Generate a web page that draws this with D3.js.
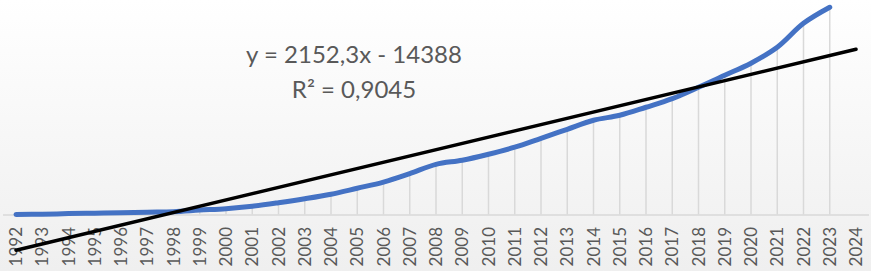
<!DOCTYPE html>
<html>
<head>
<meta charset="utf-8">
<script src="https://cdn.jsdelivr.net/npm/d3@7"></script>
<style>
  body { margin: 0; }
  svg { display: block; }
</style>
</head>
<body>
<script>
// years on the category axis
var years = ["1992","1993","1994","1995","1996","1997","1998","1999","2000","2001","2002",
  "2003","2004","2005","2006","2007","2008","2009","2010","2011","2012","2013",
  "2014","2015","2016","2017","2018","2019","2020","2021","2022","2023","2024"];

// series values (1992 - 2023, 2024 has no value)
var values = [0, 100, 300, 450, 600, 800, 950, 1500, 2000, 2850, 4050,
  5400, 6950, 9000, 11100, 14000, 17200, 18600, 20650, 23050, 26100, 29200,
  32300, 34000, 36750, 39700, 43600, 47700, 51850, 57300, 65500, 71000];

// linear trendline as shown on the chart
var trendSlope = 2152.3;
var trendIntercept = -14388;
var trendLabel = ["y = 2152,3x - 14388", "R² = 0,9045"];

function init() {
    var w = 871;
    var h = 271;

    var svg = d3.select("body")
        .append("svg")
        .attr("width", w)
        .attr("height", h);

    // background gradient, white to light grey
    var grad = svg.append("defs").append("linearGradient")
        .attr("id", "bg")
        .attr("x1", 0).attr("y1", 0).attr("x2", 0).attr("y2", 1);
    grad.append("stop").attr("offset", "0%").attr("stop-color", "#ffffff");
    grad.append("stop").attr("offset", "100%").attr("stop-color", "#efefef");

    svg.append("rect")
        .attr("width", w)
        .attr("height", h)
        .attr("fill", "url(#bg)");

    // category scale, points in the middle of each band
    var x = d3.scalePoint()
        .domain(years)
        .range([16, 856]);

    var y = d3.scaleLinear()
        .domain([0, 70000])
        .range([214.5, 10.2]);

    // axis line
    svg.append("line")
        .attr("x1", 3)
        .attr("x2", 869)
        .attr("y1", y(0) + 0.5)
        .attr("y2", y(0) + 0.5)
        .attr("stroke", "#d9d9d9")
        .attr("stroke-width", 1.5);

    // drop lines from each point to the axis
    svg.selectAll("line.drop")
        .data(values)
        .enter()
        .append("line")
        .attr("class", "drop")
        .attr("x1", function(d, i) { return x(years[i]); })
        .attr("x2", function(d, i) { return x(years[i]); })
        .attr("y1", y(0))
        .attr("y2", function(d) { return y(d); })
        .attr("stroke", "#d9d9d9")
        .attr("stroke-width", 1.5);

    // year labels, rotated
    svg.selectAll("text.year")
        .data(years)
        .enter()
        .append("text")
        .attr("class", "year")
        .attr("transform", function(d) {
            return "translate(" + x(d) + ",227) rotate(-90)";
        })
        .attr("dy", "0.36em")
        .attr("text-anchor", "end")
        .attr("font-family", "Lato, sans-serif")
        .attr("font-size", 17)
        .attr("fill", "#595959")
        .text(function(d) { return d; });

    // blue data line
    var line = d3.line()
        .x(function(d, i) { return x(years[i]); })
        .y(function(d) { return y(d); })
        .curve(d3.curveCatmullRom);

    svg.append("path")
        .datum(values)
        .attr("d", line)
        .attr("fill", "none")
        .attr("stroke", "#4472c4")
        .attr("stroke-width", 5)
        .attr("stroke-linecap", "round")
        .attr("stroke-linejoin", "round");

    // trendline from first to last category (x = 1 .. 33)
    var trend = [1, years.length].map(function(n) {
        return { year: years[n - 1], v: trendSlope * n + trendIntercept };
    });

    svg.append("line")
        .attr("x1", x(trend[0].year))
        .attr("y1", y(trend[0].v))
        .attr("x2", x(trend[1].year))
        .attr("y2", y(trend[1].v))
        .attr("stroke", "#000000")
        .attr("stroke-width", 3.5)
        .attr("stroke-linecap", "round");

    // trendline equation
    svg.selectAll("text.eq")
        .data(trendLabel)
        .enter()
        .append("text")
        .attr("class", "eq")
        .attr("x", 354)
        .attr("y", function(d, i) { return 63 + i * 35; })
        .attr("text-anchor", "middle")
        .attr("font-family", "Lato, sans-serif")
        .attr("font-size", 24)
        .attr("fill", "#595959")
        .text(function(d) { return d; });
}
window.onload = init;
</script>
</body>
</html>
